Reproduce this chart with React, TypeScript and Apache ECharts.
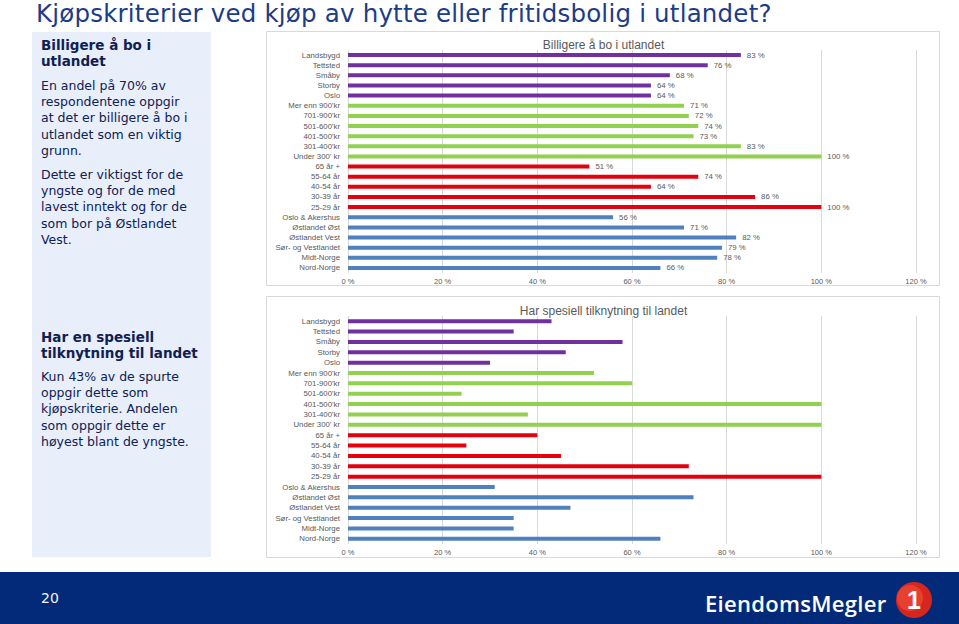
import React, { useEffect, useRef } from "react";
import * as echarts from "echarts";

// ---------- data ----------
const areaCats = ["Landsbygd", "Tettsted", "Småby", "Storby", "Oslo"];
const incomeCats = ["Mer enn 900'kr", "701-900'kr", "501-600'kr", "401-500'kr", "301-400'kr", "Under 300' kr"];
const ageCats = ["65 år +", "55-64 år", "40-54 år", "30-39 år", "25-29 år"];
const regionCats = ["Oslo & Akershus", "Østlandet Øst", "Østlandet Vest", "Sør- og Vestlandet", "Midt-Norge", "Nord-Norge"];

const cheaperArea = [83, 76, 68, 64, 64];
const cheaperIncome = [71, 72, 74, 73, 83, 100];
const cheaperAge = [51, 74, 64, 86, 100];
const cheaperRegion = [56, 71, 82, 79, 78, 66];

const tiesArea = [43, 35, 58, 46, 30];
const tiesIncome = [52, 60, 24, 100, 38, 100];
const tiesAge = [40, 25, 45, 72, 100];
const tiesRegion = [31, 73, 47, 35, 35, 66];

const xTicks = [0, 20, 40, 60, 80, 100, 120];

const chartTitles = ["Billigere å bo i utlandet", "Har spesiell tilknytning til landet"];

const groupColors = ["#7030A0", "#92D050", "#E3000F", "#4F81BD"];

const categories = [...areaCats, ...incomeCats, ...ageCats, ...regionCats];

function buildData(groups: number[][]) {
  const out: any[] = [];
  groups.forEach((g, gi) => {
    g.forEach((v) => out.push({ value: v, itemStyle: { color: groupColors[gi] } }));
  });
  return out;
}

const FONT = "'Liberation Sans', Arial, sans-serif";
const GRAY = "#595959";

function ChartArea() {
  const ref = useRef<HTMLDivElement>(null);
  useEffect(() => {
    if (!ref.current) return;
    const chart = echarts.init(ref.current, undefined, { renderer: "svg" });
    const xAxisBase = (gi: number) => ({
      gridIndex: gi,
      type: "value" as const,
      min: xTicks[0],
      max: xTicks[xTicks.length - 1],
      interval: 20,
      axisLabel: { formatter: "{value} %", fontSize: 7.5, color: GRAY, fontFamily: FONT, margin: 4 },
      splitLine: { show: true, lineStyle: { color: "#D9D9D9", width: 1 } },
      axisLine: { show: false },
      axisTick: { show: false },
    });
    const yAxisBase = (gi: number) => ({
      gridIndex: gi,
      type: "category" as const,
      inverse: true,
      data: categories,
      axisLabel: { fontSize: 7.8, color: GRAY, fontFamily: FONT, margin: 8, interval: 0 },
      axisLine: { show: false },
      axisTick: { show: false },
    });
    const titleStyle = { fontSize: 12, fontWeight: "normal" as const, color: GRAY, fontFamily: FONT };
    chart.setOption({
      animation: false,
      title: [
        { text: chartTitles[0], left: "center", top: 4, textStyle: titleStyle },
        { text: chartTitles[1], left: "center", top: 270, textStyle: titleStyle },
      ],
      grid: [
        { left: 82, width: 568, top: 20, height: 223 },
        { left: 82, width: 568, top: 286, height: 228 },
      ],
      xAxis: [xAxisBase(0), xAxisBase(1)],
      yAxis: [yAxisBase(0), yAxisBase(1)],
      series: [
        {
          type: "bar",
          xAxisIndex: 0,
          yAxisIndex: 0,
          barWidth: 4,
          data: buildData([cheaperArea, cheaperIncome, cheaperAge, cheaperRegion]),
          label: {
            show: true,
            position: "right",
            distance: 6,
            formatter: "{c} %",
            fontSize: 7.8,
            color: GRAY,
            fontFamily: FONT,
          },
        },
        {
          type: "bar",
          xAxisIndex: 1,
          yAxisIndex: 1,
          barWidth: 4,
          data: buildData([tiesArea, tiesIncome, tiesAge, tiesRegion]),
        },
      ],
      graphic: [
        {
          type: "rect",
          shape: { x: 0.5, y: 1.5, width: 673, height: 254 },
          style: { fill: "none", stroke: "#D9D9D9", lineWidth: 1 },
          z: -1,
        },
        {
          type: "rect",
          shape: { x: 0.5, y: 266.5, width: 673, height: 261 },
          style: { fill: "none", stroke: "#D9D9D9", lineWidth: 1 },
          z: -1,
        },
      ],
    });
    return () => chart.dispose();
  }, []);
  return (
    <div
      ref={ref}
      style={{ position: "absolute", left: 266, top: 30, width: 675, height: 529 }}
    />
  );
}

const textNavy = "#0F2152";

export default function App() {
  const bodyStyle: React.CSSProperties = {
    fontSize: 12.5,
    lineHeight: "16.2px",
    color: textNavy,
    margin: 0,
    whiteSpace: "nowrap",
  };
  const headStyle: React.CSSProperties = {
    fontSize: 13.5,
    fontWeight: "bold",
    lineHeight: "16px",
    color: textNavy,
    margin: 0,
    whiteSpace: "nowrap",
  };
  return (
    <div
      style={{
        position: "fixed",
        left: 0,
        top: 0,
        width: 959,
        height: 624,
        overflow: "hidden",
        background: "#FFFFFF",
        fontFamily: "'DejaVu Sans', Verdana, sans-serif",
      }}
    >
      <div
        style={{
          position: "absolute",
          left: 36,
          top: 2,
          fontSize: 24.5,
          lineHeight: "24.5px",
          letterSpacing: 0.2,
          color: "#1C3C88",
          whiteSpace: "nowrap",
        }}
      >
        Kjøpskriterier ved kjøp av hytte eller fritidsbolig i utlandet?
      </div>

      <div
        style={{
          position: "absolute",
          left: 32,
          top: 32,
          width: 179,
          height: 525,
          background: "#E8EEFA",
        }}
      >
        <div style={{ position: "absolute", left: 9, top: 5 }}>
          <p style={headStyle}>
            Billigere å bo i
            <br />
            utlandet
          </p>
          <p style={{ ...bodyStyle, marginTop: 9 }}>
            En andel på 70% av
            <br />
            respondentene oppgir
            <br />
            at det er billigere å bo i
            <br />
            utlandet som en viktig
            <br />
            grunn.
          </p>
          <p style={{ ...bodyStyle, marginTop: 8 }}>
            Dette er viktigst for de
            <br />
            yngste og for de med
            <br />
            lavest inntekt og for de
            <br />
            som bor på Østlandet
            <br />
            Vest.
          </p>
        </div>
        <div style={{ position: "absolute", left: 9, top: 297 }}>
          <p style={headStyle}>
            Har en spesiell
            <br />
            tilknytning til landet
          </p>
          <p style={{ ...bodyStyle, marginTop: 8 }}>
            Kun 43% av de spurte
            <br />
            oppgir dette som
            <br />
            kjøpskriterie. Andelen
            <br />
            som oppgir dette er
            <br />
            høyest blant de yngste.
          </p>
        </div>
      </div>

      <ChartArea />

      <div
        style={{
          position: "absolute",
          left: 0,
          top: 572,
          width: 959,
          height: 52,
          background: "#032A78",
        }}
      >
        <div
          style={{
            position: "absolute",
            left: 41,
            top: 17,
            fontSize: 14,
            lineHeight: "18px",
            color: "#F2F4FA",
          }}
        >
          20
        </div>
        <svg
          width={959}
          height={52}
          style={{ position: "absolute", left: 0, top: 0 }}
        >
          <text
            x={705}
            y={40}
            fill="#FFFFFF"
            fontFamily="'Open Sans', 'Liberation Sans', sans-serif"
            fontWeight={600}
            fontSize={22}
            letterSpacing={0.3}
          >
            EiendomsMegler
          </text>
          <circle cx={914} cy={28} r={18} fill="#D7261E" />
          <circle cx={910} cy={26} r={13} fill="#E8402F" />
          <text
            x={914}
            y={37}
            fill="#FFFFFF"
            fontFamily="'Liberation Sans', sans-serif"
            fontWeight="bold"
            fontSize={25}
            textAnchor="middle"
          >
            1
          </text>
        </svg>
      </div>
    </div>
  );
}
